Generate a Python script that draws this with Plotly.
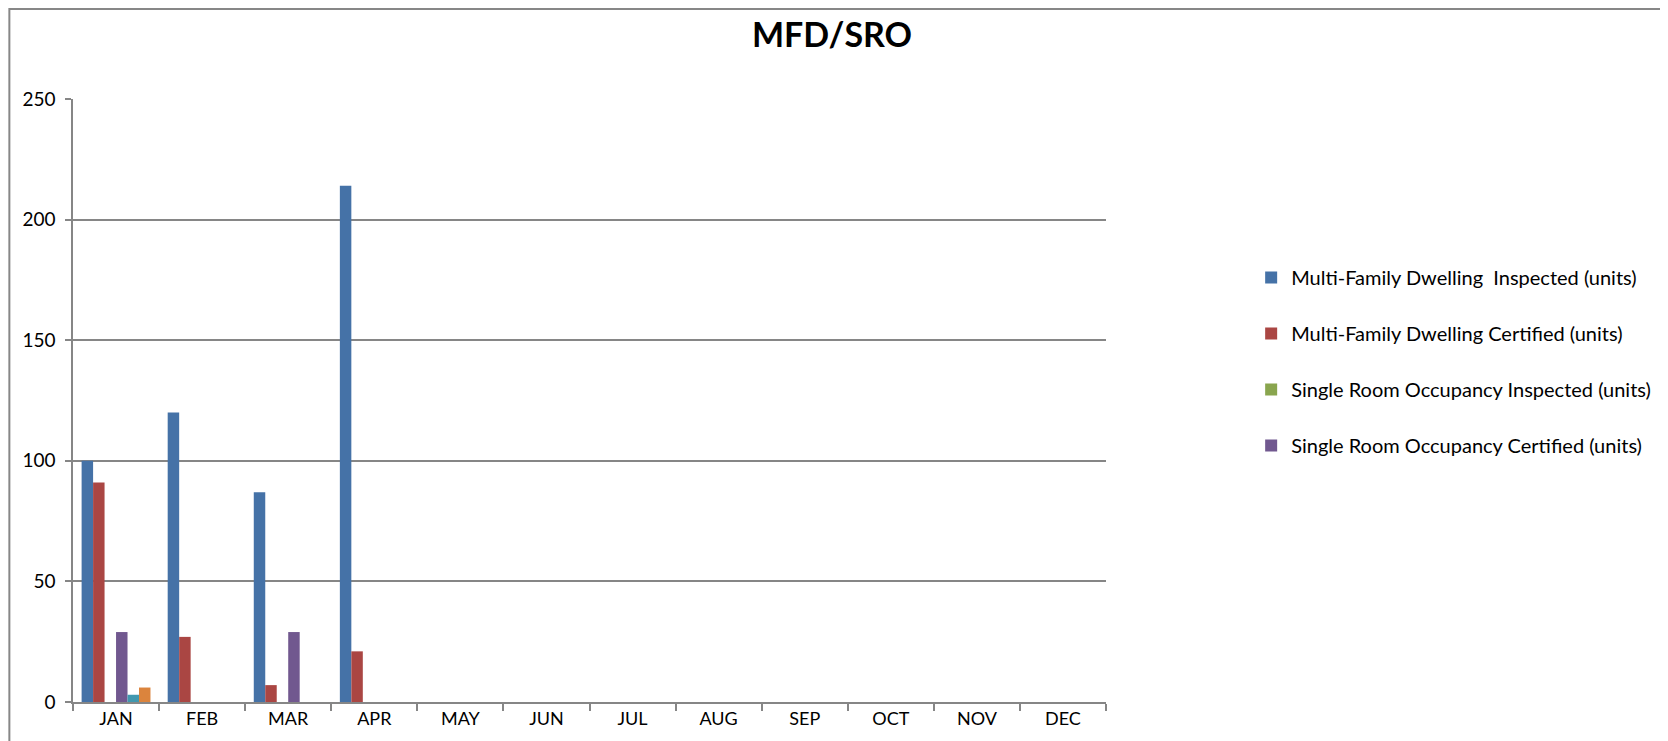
import plotly.graph_objects as go

months = ["JAN", "FEB", "MAR", "APR", "MAY", "JUN", "JUL", "AUG", "SEP", "OCT", "NOV", "DEC"]

mfd_inspected = [100, 120, 87, 214, None, None, None, None, None, None, None, None]
mfd_certified = [91, 27, 7, 21, None, None, None, None, None, None, None, None]
sro_inspected = [0, 0, 0, 0, None, None, None, None, None, None, None, None]
sro_certified = [29, 0, 29, 0, None, None, None, None, None, None, None, None]
series5 = [3, 0, 0, 0, None, None, None, None, None, None, None, None]
series6 = [6, 0, 0, 0, None, None, None, None, None, None, None, None]

series = [
    ("Multi-Family Dwelling  Inspected (units)", mfd_inspected, "#4572A7", True),
    ("Multi-Family Dwelling Certified (units)", mfd_certified, "#AA4643", True),
    ("Single Room Occupancy Inspected (units)", sro_inspected, "#89A54E", True),
    ("Single Room Occupancy Certified (units)", sro_certified, "#71588F", True),
    ("Series 5", series5, "#4198AF", False),
    ("Series 6", series6, "#DB843D", False),
]

FONT = "Lato"

fig = go.Figure()
for i, (name, vals, color, show) in enumerate(series):
    fig.add_trace(go.Bar(
        x=months, y=vals, name=name,
        marker=dict(color=color, line=dict(width=0)),
        showlegend=show, legendgroup=f"g{i}",
    ))

# plot area geometry (page has an 8px body margin)
W, H = 1660, 733
L, R, T, B = 65, 1104, 91, 694
pw, ph = R - L, B - T

fig.update_layout(
    width=W, height=H,
    margin=dict(l=L, r=W - R, t=T, b=H - B),
    paper_bgcolor="white", plot_bgcolor="white",
    barmode="group", bargap=0.2, bargroupgap=0,
    font=dict(family=FONT, color="#000000", size=18),
    title=dict(text="<b>MFD/SRO</b>", x=824 / W, xanchor="center",
               y=1 - 27 / H, yanchor="middle",
               font=dict(family=FONT, size=34, color="#000000")),
    legend=dict(
        x=(1250 - L) / pw, xanchor="left",
        y=(B - 250) / ph, yanchor="top",
        font=dict(family=FONT, size=20, color="#000000"),
        traceorder="grouped", tracegroupgap=27,
        bgcolor="rgba(0,0,0,0)",
    ),
    xaxis=dict(
        showgrid=False, showline=True, linecolor="#868686", linewidth=1.5,
        ticks="outside", tickson="boundaries", ticklen=7, tickcolor="#868686",
        tickwidth=1.5, tickfont=dict(family=FONT, size=18), fixedrange=True,
    ),
    yaxis=dict(
        range=[0, 250], tickvals=[0, 50, 100, 150, 200, 250],
        showgrid=True, gridcolor="#868686", gridwidth=1.5,
        showline=True, linecolor="#868686", linewidth=1.5,
        ticks="outside", ticklen=6, tickcolor="#868686", tickwidth=1.5,
        ticklabelstandoff=6,
        tickfont=dict(family=FONT, size=19), zeroline=False, fixedrange=True,
    ),
    shapes=[dict(
        type="rect", xref="paper", yref="paper",
        x0=(1 - L) / pw, x1=(1700 - L) / pw,
        y0=(B - 760) / ph, y1=(B - 1) / ph,
        line=dict(color="#878787", width=2), fillcolor="rgba(0,0,0,0)",
        layer="below",
    )],
)

fig.write_html("out.html")
